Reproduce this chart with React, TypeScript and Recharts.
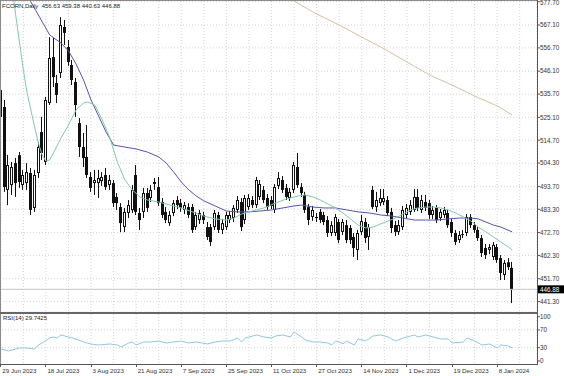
import React from 'react';
import { ComposedChart, Bar, Line, XAxis, YAxis, CartesianGrid, ReferenceLine } from 'recharts';

const FONT = '"Liberation Sans", Arial, sans-serif';

// labels every 12 bars, starting at bar 0
const dateLabels = [
  '29 Jun 2023', '18 Jul 2023', '3 Aug 2023', '21 Aug 2023', '7 Sep 2023', '25 Sep 2023',
  '11 Oct 2023', '27 Oct 2023', '14 Nov 2023', '1 Dec 2023', '19 Dec 2023', '8 Jan 2024',
];

const opens = [
  537.5, 529.8, 492.1, 494.3, 504.3, 507.9, 494.3, 495.2, 499.8, 483.9, 499.8, 518.4, 504.8, 531.6, 552.5, 540.7,
  545.3, 566.2, 557.1, 548.9, 541.2, 522.5, 511.6, 507.1, 498.0, 495.2, 495.2, 496.1, 498.9, 494.3, 495.2, 488.9,
  484.3, 475.2, 481.6, 482.9, 498.9, 481.6, 482.1, 490.7, 488.4, 494.8, 493.4, 486.6, 482.1, 477.0, 481.6, 487.5,
  486.1, 483.0, 484.3, 484.3, 475.2, 478.4, 480.7, 475.2, 475.2, 475.2, 480.7, 473.9, 475.2, 478.4, 479.3, 483.0,
  486.6, 478.4, 484.3, 487.5, 485.2, 488.9, 492.1, 488.4, 487.5, 483.0, 493.9, 496.6, 493.0, 488.4, 492.1, 502.5,
  493.4, 489.8, 484.3, 479.8, 479.3, 482.1, 480.7, 478.4, 472.5, 472.5, 477.5, 473.0, 476.1, 474.8, 470.7, 464.8,
  473.0, 477.5, 470.7, 492.1, 484.3, 486.1, 486.6, 487.5, 482.1, 476.1, 473.0, 475.2, 480.7, 482.1, 483.0, 488.9,
  483.0, 486.6, 486.1, 480.7, 483.9, 479.3, 480.7, 481.6, 477.5, 472.5, 469.3, 471.6, 472.5, 479.8, 476.1, 473.9,
  470.2, 465.7, 464.8, 461.6, 466.1, 461.1, 453.4, 459.2, 456.63,
];
const highs = [
  542.1, 533.0, 508.0, 504.8, 506.6, 509.3, 501.2, 504.3, 502.1, 501.2, 513.9, 525.3, 534.4, 561.6, 561.2, 544.4,
  570.7, 569.4, 560.3, 551.2, 543.0, 524.8, 518.0, 521.6, 500.2, 501.2, 501.2, 500.2, 502.1, 498.9, 496.6, 490.7,
  486.1, 483.9, 487.5, 494.3, 503.4, 483.9, 493.0, 493.0, 494.3, 497.5, 498.0, 488.4, 484.3, 482.5, 487.5, 489.3,
  488.0, 486.6, 486.1, 485.7, 482.1, 483.0, 482.1, 477.5, 476.6, 483.0, 482.1, 478.9, 482.1, 482.5, 485.2, 489.3,
  488.4, 489.8, 490.2, 489.3, 498.0, 496.6, 493.9, 490.2, 489.3, 494.8, 500.2, 498.4, 494.8, 493.0, 504.8, 508.9,
  495.2, 491.2, 485.7, 484.8, 481.6, 483.4, 482.1, 480.2, 477.9, 481.1, 478.9, 478.9, 478.4, 476.1, 472.5, 473.9,
  480.7, 479.3, 476.6, 493.9, 491.2, 492.5, 492.5, 489.3, 483.9, 478.0, 478.4, 484.8, 485.7, 487.5, 492.5, 492.5,
  489.8, 489.8, 487.5, 484.8, 485.2, 483.4, 484.3, 483.0, 478.9, 473.9, 473.4, 473.9, 481.1, 481.1, 477.5, 475.2,
  471.6, 467.5, 467.5, 468.4, 467.5, 462.5, 460.2, 461.1, 459.38,
];
const lows = [
  523.9, 491.2, 485.2, 489.8, 488.9, 493.0, 492.1, 492.1, 480.7, 482.1, 497.5, 505.7, 503.4, 530.7, 538.9, 531.6,
  543.0, 558.0, 548.5, 539.8, 525.3, 507.1, 502.5, 497.5, 491.2, 489.8, 488.4, 493.9, 492.1, 492.1, 484.3, 483.0,
  472.9, 472.9, 479.3, 481.6, 480.7, 473.9, 479.3, 482.1, 486.6, 492.1, 484.8, 479.3, 477.0, 475.7, 480.2, 483.4,
  482.1, 481.1, 479.3, 472.5, 473.9, 476.6, 476.6, 469.3, 466.6, 473.9, 472.5, 472.0, 473.9, 477.0, 477.5, 481.6,
  473.4, 476.6, 483.0, 483.9, 483.9, 487.5, 486.1, 483.0, 483.4, 481.6, 492.5, 490.7, 487.5, 487.1, 490.7, 493.0,
  488.9, 481.6, 476.1, 478.0, 477.5, 477.0, 476.1, 470.7, 471.1, 471.1, 467.9, 471.6, 467.9, 467.5, 461.6, 460.2,
  471.6, 468.0, 464.8, 483.4, 482.1, 484.8, 485.2, 480.2, 472.5, 471.1, 471.6, 473.9, 479.3, 480.7, 482.1, 482.5,
  481.6, 482.5, 478.9, 478.9, 477.0, 478.0, 479.3, 474.8, 470.7, 467.0, 468.0, 470.2, 471.1, 474.8, 472.5, 468.9,
  461.6, 460.7, 462.9, 460.2, 458.9, 451.1, 451.1, 455.7, 440.63,
];
const closes = [
  525.3, 493.4, 503.4, 502.5, 495.2, 495.7, 498.9, 500.2, 483.0, 498.9, 511.6, 508.9, 533.0, 552.1, 543.4, 535.3,
  567.1, 563.5, 550.3, 542.1, 530.7, 511.6, 506.6, 498.9, 493.0, 496.6, 497.5, 498.0, 493.4, 496.6, 486.1, 486.1,
  477.0, 482.1, 485.2, 492.1, 482.1, 478.4, 490.7, 483.9, 492.1, 495.7, 486.1, 480.7, 478.4, 480.7, 486.1, 485.2,
  483.9, 485.2, 480.7, 473.9, 480.7, 481.6, 478.4, 470.7, 468.4, 481.6, 473.9, 477.0, 480.7, 480.7, 483.9, 487.5,
  475.2, 488.4, 488.4, 485.2, 496.6, 494.8, 487.5, 484.3, 484.8, 493.4, 497.5, 492.1, 488.9, 491.2, 503.4, 494.3,
  490.7, 483.0, 478.4, 483.0, 479.8, 478.4, 477.5, 472.5, 476.1, 479.8, 469.3, 477.5, 469.3, 469.3, 465.7, 472.5,
  477.9, 470.2, 475.2, 484.3, 487.5, 488.4, 488.4, 481.6, 474.8, 473.0, 476.1, 483.0, 483.9, 485.2, 488.9, 483.9,
  487.5, 483.9, 480.7, 483.0, 478.4, 482.1, 483.0, 476.1, 472.5, 468.4, 471.6, 472.0, 479.8, 476.1, 473.9, 470.2,
  463.4, 462.5, 466.1, 467.1, 460.2, 454.3, 458.9, 457.0, 446.88,
];

// moving averages at selected bars
const fastAt = [2, 4, 6, 7, 9, 10, 11, 12, 13, 14, 16, 18, 20, 22, 23, 25, 27, 29, 31, 33, 35, 37, 39, 42, 45, 48, 51, 54, 57, 60, 62, 64, 66, 68, 70, 73, 76, 79, 81, 83, 85, 87, 89, 91, 93, 95, 97, 99, 101, 103, 105, 107, 109, 111, 113, 115, 117, 119, 121, 123, 125, 127, 129, 131, 133, 135, 136];
const fastVal = [596.7, 571.2, 546.6, 536.2, 520.7, 513.4, 508.0, 505.2, 505.7, 508.9, 515.7, 521.6, 528.4, 531.6, 532.1, 530.7, 523.9, 515.7, 504.8, 496.6, 492.1, 488.9, 487.5, 486.6, 485.2, 483.9, 482.1, 480.2, 478.9, 478.4, 479.3, 481.1, 482.1, 483.0, 483.9, 486.1, 488.0, 489.3, 489.8, 488.9, 487.5, 485.7, 483.9, 481.6, 478.9, 476.1, 474.8, 475.2, 476.6, 478.0, 479.3, 481.1, 483.0, 483.9, 484.3, 484.3, 483.9, 483.0, 481.6, 479.8, 478.0, 475.2, 473.0, 470.7, 468.4, 466.1, 464.8];

const slowAt = [4, 8, 13, 16, 18, 20, 22, 24, 26, 28, 30, 33, 36, 39, 42, 44, 46, 48, 50, 52, 54, 57, 60, 63, 66, 69, 72, 75, 78, 80, 83, 86, 89, 92, 95, 98, 101, 104, 107, 110, 113, 116, 119, 122, 125, 127, 129, 131, 133, 136];
const slowVal = [589.8, 577.6, 562.6, 558.9, 555.3, 549.4, 542.1, 533.0, 525.7, 518.4, 512.5, 511.6, 510.7, 509.3, 507.1, 504.3, 500.2, 495.7, 492.1, 489.3, 487.1, 484.8, 482.5, 482.1, 482.1, 482.5, 483.0, 483.9, 484.8, 485.2, 484.3, 483.9, 483.9, 483.0, 482.1, 481.6, 480.7, 480.2, 479.3, 478.4, 478.4, 478.4, 478.9, 479.3, 479.3, 478.9, 477.5, 476.1, 475.2, 473.0];

const longAt = [76, 78, 84, 90, 96, 102, 108, 114, 120, 126, 132, 136];
const longVal = [579.8, 578.0, 572.1, 567.1, 561.6, 556.2, 550.3, 544.4, 539.8, 534.8, 530.3, 526.2];

const rsiAt = [0, 2, 3, 5, 7, 9, 10, 11, 13, 14, 15, 16, 18, 20, 22, 24, 26, 29, 31, 32, 34, 35, 36, 38, 40, 42, 44, 46, 48, 50, 52, 55, 57, 59, 61, 63, 64, 65, 68, 70, 72, 73, 75, 77, 78, 80, 81, 83, 85, 87, 88, 89, 90, 91, 92, 94, 95, 97, 99, 101, 103, 105, 107, 109, 110, 111, 113, 115, 117, 119, 120, 123, 124, 126, 128, 130, 132, 133, 135, 136];
const rsiVal = [27.1, 22.6, 24.8, 29.3, 29.3, 27.1, 36.1, 40.6, 51.9, 54.2, 51.9, 58.7, 54.2, 49.7, 42.9, 38.4, 36.1, 38.4, 36.1, 31.6, 40.6, 42.9, 36.1, 42.9, 42.9, 45.1, 40.6, 42.9, 45.1, 40.6, 42.9, 38.4, 42.9, 45.1, 45.1, 51.9, 42.9, 51.9, 58.7, 54.2, 51.9, 56.4, 58.7, 54.2, 65.5, 54.2, 47.4, 42.9, 42.9, 40.6, 36.1, 45.1, 42.9, 38.4, 45.1, 36.1, 49.7, 45.1, 56.4, 58.7, 54.2, 45.1, 51.9, 56.4, 58.7, 54.2, 58.7, 54.2, 49.7, 49.7, 40.6, 42.9, 51.9, 45.1, 36.1, 38.4, 29.3, 36.1, 33.9, 29.74];

const priceTicks = [577.7, 567.1, 556.7, 546.1, 535.7, 525.1, 514.7, 504.3, 493.7, 483.3, 472.7, 462.3, 451.7, 441.3];
const rsiTicks = [0, 30, 70, 100];
const lastPrice = 446.88;
const gridBars = Array.from({ length: 24 }, (_, k) => k * 6);

const rows = opens.map((o, i) => ({
  i, open: o, high: highs[i], low: lows[i], close: closes[i],
  fast: null as number | null, slow: null as number | null, long: null as number | null, rsi: null as number | null,
}));
fastAt.forEach((b, k) => { rows[b].fast = fastVal[k]; });
slowAt.forEach((b, k) => { rows[b].slow = slowVal[k]; });
longAt.forEach((b, k) => { rows[b].long = longVal[k]; });
rsiAt.forEach((b, k) => { rows[b].rsi = rsiVal[k]; });

const X_DOMAIN: [number, number] = [-0.213, 142.6];

function Candle(props: any) {
  const { x, y, width, height, payload } = props;
  if (x == null || y == null) return null;
  const { open, close, high, low } = payload;
  const cx = Math.floor(x + width / 2);
  const span = high - low || 1;
  const py = (v: number) => y + ((high - v) / span) * height;
  const top = py(Math.max(open, close));
  const bot = py(Math.min(open, close));
  const bh = Math.max(bot - top, 1);
  const up = close >= open;
  return (
    <g>
      <line x1={cx + 0.5} x2={cx + 0.5} y1={y} y2={y + height} stroke="#111" strokeWidth={1} />
      <rect x={cx - 1} y={top} width={3} height={bh} fill="#111" />
      {up && bh > 2 ? <rect x={cx} y={top + 1} width={1} height={bh - 2} fill="#fff" /> : null}
    </g>
  );
}

function PriceTick(props: any) {
  const { x, y, payload } = props;
  const v = payload.value as number;
  if (v === lastPrice) {
    return (
      <g>
        <rect x={x - 2} y={y - 4} width={26} height={8} fill="#000" />
        <text x={x} y={y} dy={2.3} fill="#fff" fontSize={6.3} fontFamily={FONT}>{v.toFixed(2)}</text>
      </g>
    );
  }
  // the top label sits on the frame edge, nudge it inside
  const dy = v === priceTicks[0] ? 3.6 : 2.3;
  return <text x={x} y={y} dy={dy} fill="#333" fontSize={6.3} fontFamily={FONT}>{v.toFixed(2)}</text>;
}

function RsiTick(props: any) {
  const { x, y, payload } = props;
  return <text x={x} y={y} dy={2.3} fill="#333" fontSize={6.3} fontFamily={FONT}>{payload.value}</text>;
}

function DateTick(props: any) {
  const { x, y, payload } = props;
  const i = payload.value as number;
  if (i % 12 !== 0) return null;
  return (
    <g>
      <line x1={Math.floor(x) + 0.5} x2={Math.floor(x) + 0.5} y1={y - 3} y2={y} stroke="#555" />
      <text x={x + 1.5} y={y} dy={5.5} fill="#333" fontSize={6.2} fontFamily={FONT}>{dateLabels[i / 12]}</text>
    </g>
  );
}

const lineStyle = (top: number, left: number, w: number, h: number, c: string): React.CSSProperties => ({
  position: 'absolute', top, left, width: w, height: h, background: c,
});

export default function App() {
  return (
    <div style={{ position: 'fixed', left: 0, top: 0, width: 564, height: 376, background: '#fff', overflow: 'hidden' }}>
      <div style={{ position: 'absolute', left: 0, top: 0 }}>
        <ComposedChart width={564} height={312} data={rows} margin={{ top: 1, right: 0, bottom: 0, left: 0 }}>
          <CartesianGrid stroke="#d4d4d4" strokeDasharray="1 2" />
          <XAxis dataKey="i" type="number" domain={X_DOMAIN} allowDataOverflow ticks={gridBars} interval={0} hide />
          <YAxis
            orientation="right"
            width={27}
            domain={[436.57, 578.02]}
            allowDataOverflow
            ticks={[...priceTicks, lastPrice]}
            interval={0}
            tick={<PriceTick />}
            tickSize={3}
            tickMargin={0}
            tickLine={{ stroke: '#555' }}
            axisLine={false}
          />
          <ReferenceLine y={lastPrice} stroke="#c8c8c8" />
          <Bar dataKey={(d: any) => [d.low, d.high]} shape={<Candle />} barSize={3} isAnimationActive={false} />
          <Line dataKey="long" stroke="#d9bf9c" strokeWidth={1} dot={false} connectNulls isAnimationActive={false} />
          <Line dataKey="slow" stroke="#5555b0" strokeWidth={1} dot={false} connectNulls isAnimationActive={false} />
          <Line dataKey="fast" stroke="#82c9a8" strokeWidth={1} dot={false} connectNulls isAnimationActive={false} />
        </ComposedChart>
      </div>
      <div style={{ position: 'absolute', left: 0, top: 314 }}>
        <ComposedChart width={564} height={62} data={rows} margin={{ top: 0, right: 0, bottom: 0, left: 0 }}>
          <CartesianGrid stroke="#d4d4d4" strokeDasharray="1 2" horizontal={false} />
          <XAxis
            dataKey="i"
            type="number"
            domain={X_DOMAIN}
            allowDataOverflow
            ticks={gridBars}
            interval={0}
            height={12}
            tick={<DateTick />}
            tickSize={3}
            tickMargin={0}
            tickLine={false}
            axisLine={false}
          />
          <YAxis
            orientation="right"
            width={27}
            domain={[-6.8, 106.1]}
            allowDataOverflow
            ticks={rsiTicks}
            interval={0}
            tick={<RsiTick />}
            tickSize={3}
            tickMargin={0}
            tickLine={{ stroke: '#555' }}
            axisLine={false}
          />
          <ReferenceLine y={70} stroke="#cfcfcf" strokeDasharray="1 2" />
          <ReferenceLine y={30} stroke="#cfcfcf" strokeDasharray="1 2" />
          <Line dataKey="rsi" stroke="#8fc7e6" strokeWidth={1} dot={false} connectNulls isAnimationActive={false} />
        </ComposedChart>
      </div>
      <div style={lineStyle(0, 0, 538, 1, '#8a8a8a')} />
      <div style={lineStyle(0, 0, 1, 365, '#8a8a8a')} />
      <div style={lineStyle(0, 537, 1, 365, '#555')} />
      <div style={lineStyle(312, 0, 538, 2, '#666')} />
      <div style={lineStyle(364, 0, 538, 1, '#555')} />
      <div style={{ position: 'absolute', left: 2, top: 2, fontFamily: FONT, fontSize: 6, lineHeight: '8px', color: '#222', whiteSpace: 'pre' }}>
        {'FCORN,Daily  456.63 459.38 440.63 446.88'}
      </div>
      <div style={{ position: 'absolute', left: 3, top: 314, fontFamily: FONT, fontSize: 6, lineHeight: '8px', color: '#222', whiteSpace: 'pre' }}>
        {'RSI(14) 29.7425'}
      </div>
    </div>
  );
}
